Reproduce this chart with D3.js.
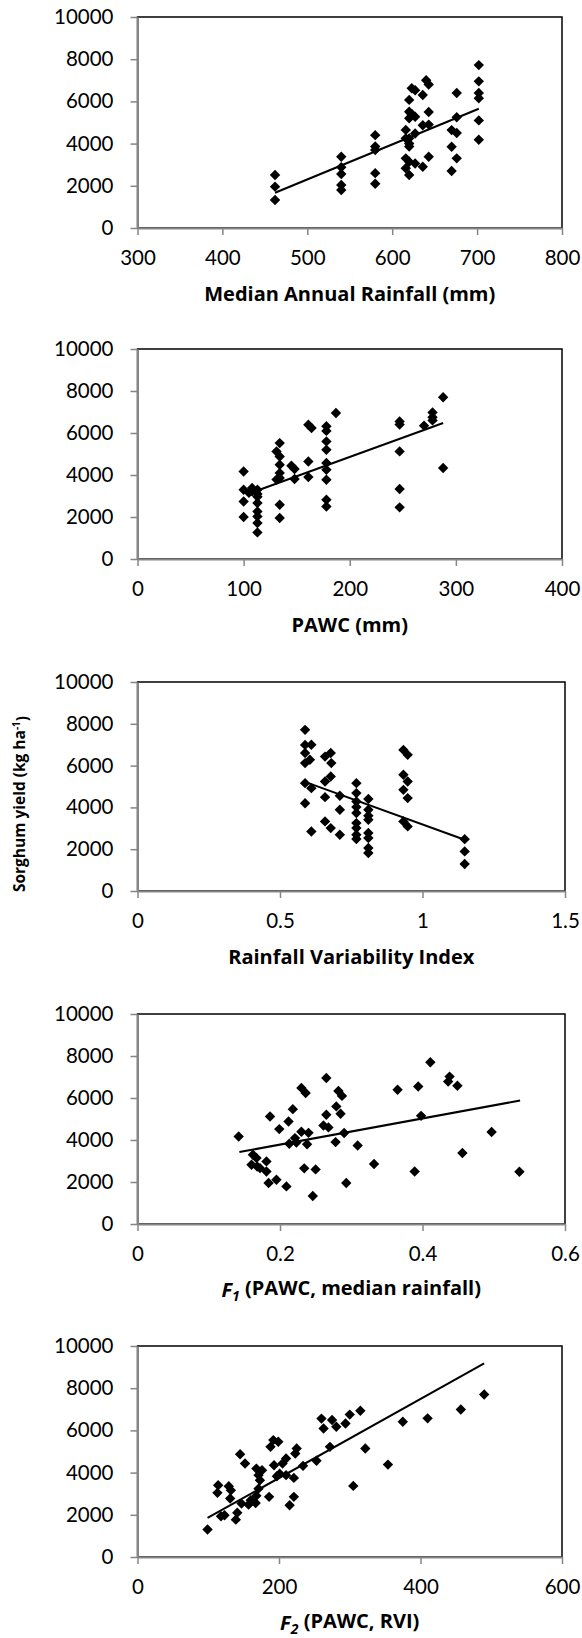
<!DOCTYPE html>
<html>
<head>
<meta charset="utf-8">
<script src="https://cdn.jsdelivr.net/npm/d3@7"></script>
<style>
  body { margin: 0; background: #fff; }
  svg text { font-family: Lato, "Open Sans", sans-serif; fill: #000; }
</style>
</head>
<body>
<div id="chart"></div>
<script>
// yield axis (same for every panel)
const yieldTicks = [0, 2000, 4000, 6000, 8000, 10000];

// panel 1: median annual rainfall (mm) vs yield
const rainfallTicks = [300, 400, 500, 600, 700, 800];
const rainfallPts = [
  [462,2510],[462,1960],[462,1330],
  [540,3380],[540,2880],[540,2560],[540,2040],[540,1800],
  [580,4400],[580,3860],[580,3700],[580,2600],[580,2100],
  [616,4650],[616,4250],[616,3300],[616,2830],
  [620,6070],[620,5510],[620,5200],[620,4250],[620,4000],[620,3860],[620,3140],[620,2510],
  [623,6620],[623,5400],
  [627,6530],[627,5270],[627,4480],[627,3060],
  [636,6300],[636,4870],[636,2900],
  [640,7000],
  [643,6800],[643,5500],[643,4900],[643,3380],
  [670,4640],[670,3850],[670,2700],
  [676,6400],[676,5250],[676,4500],[676,3300],
  [702,7720],[702,6950],[702,6400],[702,6150],[702,5100],[702,4180]
];
const rainfallTrend = [[462,1670],[702,5650]];

// panel 2: PAWC (mm)
const pawcTicks = [0, 100, 200, 300, 400];
const pawcPts = [
  [100,4170],[100,3300],[100,2740],[100,2000],[105,3150],[108,3380],[108,3220],
  [113,3300],[113,3100],[113,2965],[113,2665],[113,2265],[113,2028],[113,1713],[113,1266],
  [131,5120],[131,3780],
  [134,5520],[134,4880],[134,4490],[134,4100],[134,3855],[134,2585],[134,1950],
  [145,4440],[148,4285],[148,3810],
  [161,6390],[161,4645],[161,3900],[164,6235],
  [178,6320],[178,6100],[178,5600],[178,5200],[178,4570],[178,4250],[178,3775],[178,2820],[178,2500],
  [187,6950],
  [247,6550],[247,6400],[247,5125],[247,3330],[247,2460],
  [270,6350],[278,6980],[278,6750],[278,6600],
  [288,7700],[288,4330]
];
const pawcTrend = [[115,3300],[288,6475]];

// panel 3: rainfall variability index
const rviTicks = [0, 0.5, 1, 1.5];
const rviPts = [
  [0.588,7710],[0.588,6990],[0.588,6600],[0.588,6120],[0.588,5160],[0.588,4200],
  [0.61,7000],[0.605,6280],[0.61,4920],[0.61,2850],
  [0.658,6430],[0.658,5240],[0.658,4490],[0.658,3330],
  [0.678,6600],[0.68,6120],[0.678,5480],[0.678,3010],
  [0.71,4555],[0.71,3886],[0.71,2690],
  [0.768,5160],[0.768,4685],[0.768,4280],[0.768,4015],[0.768,3730],[0.768,3250],[0.768,3010],[0.768,2690],[0.768,2485],
  [0.81,4400],[0.81,3886],[0.81,3600],[0.81,3410],[0.81,2775],[0.81,2535],[0.81,2055],[0.81,1815],
  [0.933,6750],[0.933,5560],[0.933,4840],[0.933,3330],
  [0.948,6515],[0.948,5240],[0.948,4445],[0.948,3090],
  [1.148,2480],[1.148,1895],[1.148,1290]
];
const rviTrend = [[0.6,5160],[1.148,2450]];

// panel 4: F1 (PAWC, median rainfall)
const f1Ticks = [0, 0.2, 0.4, 0.6];
const f1Pts = [
  [0.142,4165],
  [0.162,3300],[0.167,3140],[0.160,2820],[0.168,2740],[0.172,2660],[0.181,2980],[0.181,2500],[0.184,1950],[0.195,2110],[0.209,1790],
  [0.186,5120],[0.199,4520],[0.212,4880],[0.218,5470],[0.213,3820],[0.221,4090],[0.223,3880],
  [0.230,6480],[0.236,6240],[0.230,4390],[0.240,4340],[0.238,3800],[0.234,2650],[0.250,2600],[0.246,1330],
  [0.265,6950],[0.265,5200],[0.261,4690],[0.268,4600],[0.279,5600],[0.282,6330],[0.287,6100],[0.285,5250],
  [0.290,4330],[0.278,3900],[0.293,1950],[0.309,3740],[0.332,2860],
  [0.365,6390],[0.394,6550],[0.398,5150],[0.389,2500],[0.411,7700],[0.436,6780],[0.438,7020],
  [0.449,6580],[0.456,3380],[0.497,4380],[0.536,2490]
];
const f1Trend = [[0.143,3425],[0.537,5880]];

// panel 5: F2 (PAWC, RVI)
const f2Ticks = [0, 200, 400, 600];
const f2Pts = [
  [99,1300],[114,3400],[113,3040],[118,1930],[123,1980],
  [129,3350],[132,3160],[131,2770],[139,1770],[141,2100],
  [145,4870],[152,4430],
  [147,2530],[157,2480],[160,2690],[167,2560],[168,2900],[171,3240],[173,3640],
  [168,4190],[176,4110],[171,3880],
  [186,2850],[188,5220],[192,5540],[199,5460],[193,4350],[197,3830],[201,3950],
  [205,4430],[210,4670],[210,3880],
  [215,2450],[221,2850],[221,3750],[223,4900],[225,5140],
  [234,4320],[253,4560],[272,5220],
  [260,6560],[263,6090],[275,6490],[281,6170],[294,6330],[300,6750],[315,6930],
  [305,3370],[322,5140],[354,4380],[375,6410],[410,6570],[457,6990],[490,7700]
];
const f2Trend = [[99,1850],[490,9175]];

const width = 582, height = 1638;
const left = 137.5;
const titleFont = "'Open Sans', Lato, sans-serif";

const panels = [
  { pts: rainfallPts, trend: rainfallTrend, ticks: rainfallTicks, top: 17, bottom: 228, right: 562,
    title: [{ t: "Median Annual Rainfall (mm)" }] },
  { pts: pawcPts, trend: pawcTrend, ticks: pawcTicks, top: 349, bottom: 559, right: 562,
    title: [{ t: "PAWC (mm)" }] },
  { pts: rviPts, trend: rviTrend, ticks: rviTicks, top: 682, bottom: 891, right: 565,
    title: [{ t: "Rainfall Variability Index" }] },
  { pts: f1Pts, trend: f1Trend, ticks: f1Ticks, top: 1014, bottom: 1224, right: 565,
    title: [{ t: "F", it: true }, { t: "1", it: true, sub: true }, { t: " (PAWC, median rainfall)" }] },
  { pts: f2Pts, trend: f2Trend, ticks: f2Ticks, top: 1346, bottom: 1557, right: 562,
    title: [{ t: "F", it: true }, { t: "2", it: true, sub: true }, { t: " (PAWC, RVI)" }] }
];

const svg = d3.select("#chart")
  .append("svg")
  .attr("width", width)
  .attr("height", height);

const diamond = d3.symbol().type(d3.symbolSquare).size(54);

panels.forEach(p => {
  const x = d3.scaleLinear()
    .domain(d3.extent(p.ticks))
    .range([left, p.right]);
  const y = d3.scaleLinear()
    .domain([0, 10000])
    .range([p.bottom, p.top]);

  // plot area border
  svg.append("rect")
    .attr("x", left)
    .attr("y", p.top)
    .attr("width", p.right - left)
    .attr("height", p.bottom - p.top)
    .attr("fill", "none")
    .attr("stroke", "#000")
    .attr("stroke-width", 1.5);

  // y axis
  const gy = svg.append("g")
    .attr("transform", `translate(${left},0)`)
    .call(d3.axisLeft(y).tickValues(yieldTicks).tickFormat(d3.format("d"))
      .tickSize(7).tickSizeOuter(0).tickPadding(17));

  // x axis
  const gx = svg.append("g")
    .attr("transform", `translate(0,${p.bottom})`)
    .call(d3.axisBottom(x).tickValues(p.ticks).tickFormat(d => String(d))
      .tickSize(7).tickSizeOuter(0).tickPadding(15));

  [gx, gy].forEach(g => {
    g.select(".domain").attr("stroke", "#868686").attr("stroke-width", 2);
    g.selectAll(".tick line").attr("stroke", "#868686").attr("stroke-width", 1.5);
    g.selectAll(".tick text")
      .style("font-family", "Lato, 'Open Sans', sans-serif")
      .style("font-size", "20.5px")
      .attr("fill", "#000");
  });

  // trend line
  svg.append("path")
    .datum(p.trend)
    .attr("fill", "none")
    .attr("stroke", "#000")
    .attr("stroke-width", 2)
    .attr("d", d3.line().x(d => x(d[0])).y(d => y(d[1])));

  // points
  svg.append("g")
    .selectAll("path")
    .data(p.pts)
    .join("path")
    .attr("d", diamond)
    .attr("transform", d => `translate(${x(d[0])},${y(d[1])}) rotate(45)`)
    .attr("fill", "#000");

  // x axis title
  const hasSub = p.title.some(q => q.sub);
  const title = svg.append("text")
    .attr("x", (left + p.right) / 2)
    .attr("y", p.bottom + 73)
    .attr("text-anchor", "middle")
    .style("font-family", titleFont)
    .style("font-size", "20px")
    .style("font-weight", "bold");
  p.title.forEach(s => {
    const ts = title.append("tspan").text(s.t);
    if (s.it) ts.style("font-style", "italic");
    if (s.sub) ts.attr("dy", "0.3em").style("font-size", "14px");
    else if (hasSub && !s.it) ts.attr("dy", "-0.3em");
  });
});

// shared y axis title beside the third panel
const ylab = svg.append("text")
  .attr("transform", "translate(25,804) rotate(-90)")
  .attr("text-anchor", "middle")
  .style("font-family", titleFont)
  .style("font-size", "15.5px")
  .style("font-weight", "bold");
ylab.append("tspan").text("Sorghum yield (kg ha");
ylab.append("tspan").text("-1").attr("dy", "-0.5em").style("font-size", "10px");
ylab.append("tspan").text(")").attr("dy", "0.5em");
</script>
</body>
</html>
